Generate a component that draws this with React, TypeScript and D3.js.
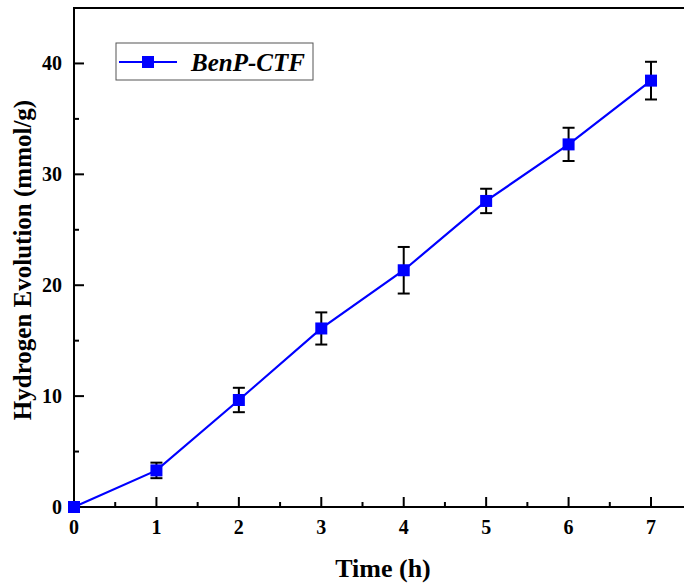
import React from "react";
import * as d3 from "d3";

// Hydrogen evolution of BenP-CTF over time
const hours = [0, 1, 2, 3, 4, 5, 6, 7];
const evolution = [0, 3.3, 9.65, 16.1, 21.35, 27.6, 32.7, 38.45];
const errors = [0, 0.7, 1.1, 1.45, 2.1, 1.1, 1.5, 1.7];
const xTicks = [0, 1, 2, 3, 4, 5, 6, 7];
const yTicks = [0, 10, 20, 30, 40];
const seriesName = "BenP-CTF";

const W = 684;
const H = 584;
const left = 74;
const top = 8;
const bottom = 507;
const right = 700;

export default function App() {
  const x = d3.scaleLinear().domain([0, 7.6]).range([left, left + 7.6 * 82.43]);
  const y = d3.scaleLinear().domain([0, 45]).range([bottom, top]);
  const line = d3
    .line<number>()
    .x((_, i) => x(hours[i]))
    .y((d) => y(d));
  const font = "'Liberation Serif', 'Times New Roman', serif";
  const xMinor = d3.range(0.5, 7.6, 1);
  const yMinor = d3.range(5, 45, 10);
  const ms = 12;

  return (
    <svg
      width={W}
      height={H}
      style={{ position: "absolute", left: 0, top: 0, background: "#fff" }}
      fontFamily={font}
    >
      <rect width={W} height={H} fill="#fff" />
      {/* frame */}
      <line x1={left} x2={left} y1={top} y2={bottom + 1} stroke="#000" strokeWidth={2} />
      <line x1={left - 1} x2={right} y1={bottom} y2={bottom} stroke="#000" strokeWidth={2} />
      <line x1={left - 1} x2={right} y1={top} y2={top} stroke="#000" strokeWidth={2} />

      {/* x ticks */}
      {xTicks.map((t) => (
        <g key={"xt" + t}>
          <line x1={x(t)} x2={x(t)} y1={bottom} y2={bottom - 10} stroke="#000" strokeWidth={2} />
          <text x={x(t)} y={bottom + 27} textAnchor="middle" fontSize={20} fontWeight="bold">
            {t}
          </text>
        </g>
      ))}
      {xMinor.map((t) => (
        <line key={"xm" + t} x1={x(t)} x2={x(t)} y1={bottom} y2={bottom - 5} stroke="#000" strokeWidth={2} />
      ))}

      {/* y ticks */}
      {yTicks.map((t) => (
        <g key={"yt" + t}>
          <line x1={left} x2={left + 10} y1={y(t)} y2={y(t)} stroke="#000" strokeWidth={2} />
          <text x={left - 12} y={y(t) + 7} textAnchor="end" fontSize={20} fontWeight="bold">
            {t}
          </text>
        </g>
      ))}
      {yMinor.map((t) => (
        <line key={"ym" + t} x1={left} x2={left + 5} y1={y(t)} y2={y(t)} stroke="#000" strokeWidth={2} />
      ))}

      {/* axis titles */}
      <text x={383} y={577} textAnchor="middle" fontSize={26} fontWeight="bold">
        Time (h)
      </text>
      <text
        transform={`translate(31,${260}) rotate(-90)`}
        textAnchor="middle"
        fontSize={25}
        fontWeight="bold"
      >
        Hydrogen Evolution (mmol/g)
      </text>

      {/* series line */}
      <path d={line(evolution) ?? ""} fill="none" stroke="#0000ff" strokeWidth={2.2} />

      {/* error bars */}
      {evolution.map((v, i) =>
        errors[i] > 0 ? (
          <g key={"e" + i} stroke="#000" strokeWidth={2}>
            <line x1={x(hours[i])} x2={x(hours[i])} y1={y(v + errors[i])} y2={y(v - errors[i])} />
            <line x1={x(hours[i]) - 6} x2={x(hours[i]) + 6} y1={y(v + errors[i])} y2={y(v + errors[i])} />
            <line x1={x(hours[i]) - 6} x2={x(hours[i]) + 6} y1={y(v - errors[i])} y2={y(v - errors[i])} />
          </g>
        ) : null
      )}

      {/* markers */}
      {evolution.map((v, i) => (
        <rect
          key={"m" + i}
          x={x(hours[i]) - ms / 2}
          y={y(v) - ms / 2}
          width={ms}
          height={ms}
          fill="#0000ff"
        />
      ))}

      {/* legend */}
      <rect x={116} y={43} width={197} height={37} fill="#fff" stroke="#555" strokeWidth={1} />
      <line x1={119} x2={177} y1={62} y2={62} stroke="#0000ff" strokeWidth={2.2} />
      <rect x={148 - 6} y={62 - 6} width={12} height={12} fill="#0000ff" />
      <text x={191} y={71} fontSize={25} fontWeight="bold" fontStyle="italic">
        {seriesName}
      </text>
    </svg>
  );
}
